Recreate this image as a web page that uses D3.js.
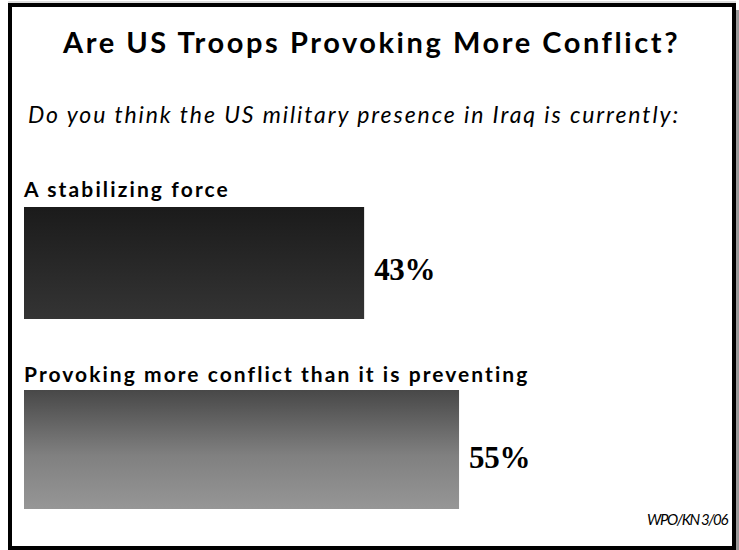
<!DOCTYPE html>
<html><head><meta charset="utf-8">
<script src="https://cdn.jsdelivr.net/npm/d3@7"></script>
<style>body{margin:0;background:#fff}svg{display:block}</style>
</head><body>
<script>
const title = "Are US Troops Provoking More Conflict?";
const subtitle = "Do you think the US military presence in Iraq is currently:";
const categories = ["A stabilizing force", "Provoking more conflict than it is preventing"];
const values = [43, 55];
const source = "WPO/KN 3/06";

const W = 739, H = 550;
const svg = d3.select("body").append("svg").attr("width", W).attr("height", H);
const defs = svg.append("defs");
const g1 = defs.append("linearGradient").attr("id","g0").attr("x1",0).attr("y1",0).attr("x2",0).attr("y2",1);
g1.append("stop").attr("offset","0%").attr("stop-color","#1b1b1b");
g1.append("stop").attr("offset","100%").attr("stop-color","#343434");
const g2 = defs.append("linearGradient").attr("id","g1").attr("x1",0).attr("y1",0).attr("x2",0).attr("y2",1);
g2.append("stop").attr("offset","0%").attr("stop-color","#484848");
g2.append("stop").attr("offset","55%").attr("stop-color","#808080");
g2.append("stop").attr("offset","100%").attr("stop-color","#969696");

// fit text to a target width by adjusting letter-spacing
function fit(sel, target) {
  const n = sel.text().length;
  const len = sel.node().getComputedTextLength();
  sel.attr("letter-spacing", ((target - len) / n).toFixed(2));
  return sel;
}

// shadow + frame
svg.append("rect").attr("x",736).attr("y",10).attr("width",3).attr("height",540).attr("fill","#999");
svg.append("line").attr("x1",8).attr("x2",736).attr("y1",2).attr("y2",2).attr("stroke","#bbb").attr("stroke-width",1);
svg.append("rect").attr("x",10).attr("y",5).attr("width",724).attr("height",543)
  .attr("fill","#fff").attr("stroke","#000").attr("stroke-width",4);

fit(svg.append("text").attr("x",63).attr("y",53)
  .attr("font-family","Lato, sans-serif").attr("font-weight","bold").attr("font-size",29)
  .text(title), 617);
fit(svg.append("text").attr("x",28).attr("y",123)
  .attr("font-family","Lato, sans-serif").attr("font-style","italic").attr("font-size",23)
  .text(subtitle), 652);

const x = d3.scaleLinear().domain([0,100]).range([24, 24+791]);
const rowY = d3.scaleOrdinal().domain(categories).range([207, 390]);
const barH = [112, 119];
const labelW = [206, 506];
const labelBase = [197, 382];

categories.forEach((c,i)=>{
  const y0 = rowY(c);
  fit(svg.append("text").attr("x",24).attr("y",labelBase[i])
    .attr("font-family","Lato, sans-serif").attr("font-weight","bold").attr("font-size",21)
    .text(c), labelW[i]);
  svg.append("rect").attr("x",x(0)).attr("y",y0).attr("width",x(values[i])-x(0)).attr("height",barH[i])
    .attr("fill",`url(#g${i})`);
  fit(svg.append("text").attr("x",x(values[i])+10).attr("y",y0+barH[i]*0.655)
    .attr("font-family","Liberation Serif, serif").attr("font-weight","bold").attr("font-size",31)
    .text(values[i]+"%"), 61);
});

fit(svg.append("text").attr("x",647).attr("y",525)
  .attr("font-family","Lato, sans-serif").attr("font-style","italic").attr("font-size",15)
  .text(source), 80);
</script>
</body></html>
